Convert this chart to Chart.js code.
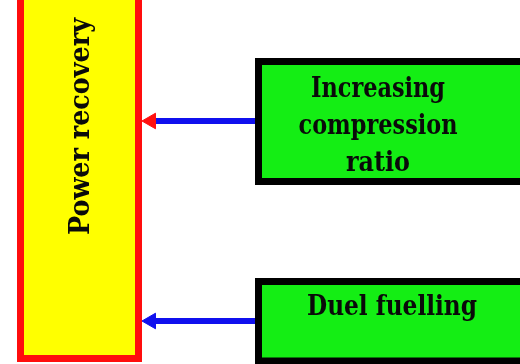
<!DOCTYPE html>
<html>
<head>
<meta charset="utf-8">
<script src="https://cdn.jsdelivr.net/npm/chart.js@4/dist/chart.umd.min.js"></script>
<style>
  html, body { margin: 0; padding: 0; background: #fff; }
  #wrap { width: 520px; height: 364px; }
</style>
</head>
<body>
<div id="wrap"><canvas id="diagrama" width="520" height="364"></canvas></div>
<script>
// Etiquetas del diagrama
const destino = ["Power recovery"];
const origenes = [["Increasing", "compression", "ratio"], ["Duel fuelling"]];
const colorPunta = ["#ff1010", "#1010ee"];

// Colores
const amarillo = "#ffff00";
const rojo = "#ff0d0d";
const verde = "#14ee14";
const azul = "#1010ee";

// Disposición (unidades del eje = pixeles de la imagen)
const cajaDestino = { x0: 20.5, x1: 138.5, y0: -10, y1: 358.5 };
const cajasOrigen = [
  { x0: 258.5, x1: 540, y0: 61.5, y1: 181.5, cx: 378, base: 97, ancho: [134, 159, 64] },
  { x0: 258.5, x1: 540, y0: 281.5, y1: 361, cx: 392, base: 315, ancho: [170] }
];
const flechaY = [121, 321];
const textoDestino = { x: 89, y: 126.5, ancho: 217 };

function rect(c) {
  return [
    { x: c.x1, y: c.y0 }, { x: c.x0, y: c.y0 },
    { x: c.x0, y: c.y1 }, { x: c.x1, y: c.y1 }, { x: c.x1, y: c.y0 }
  ];
}

const datasets = [];

// Flechas (línea azul + punta)
flechaY.forEach((y, i) => {
  datasets.push({
    data: [{ x: 262, y: y }, { x: 154, y: y }],
    showLine: true, borderColor: azul, borderWidth: 6,
    pointRadius: 0, fill: false, clip: false, order: 3
  });
  datasets.push({
    data: [{ x: 151, y: y }],
    showLine: false, pointStyle: "triangle", rotation: 270,
    pointRadius: 9, backgroundColor: colorPunta[i], borderColor: colorPunta[i],
    borderWidth: 1, clip: false, order: 2
  });
});

// Caja amarilla
datasets.push({
  data: rect(cajaDestino).slice(0, 4).concat([{ x: cajaDestino.x1, y: cajaDestino.y0 - 5 }]),
  showLine: true, fill: "shape", backgroundColor: amarillo,
  borderColor: rojo, borderWidth: 7, borderJoinStyle: "miter",
  pointRadius: 0, clip: false, order: 1
});

// Cajas verdes
cajasOrigen.forEach(c => {
  datasets.push({
    data: rect(c),
    showLine: true, fill: "shape", backgroundColor: verde,
    borderColor: "#000", borderWidth: 7, borderJoinStyle: "miter",
    pointRadius: 0, clip: false, order: 1
  });
});

// Texto de las cajas
function escribir(ctx, txt, ancho) {
  const w = ctx.measureText(txt).width;
  ctx.save();
  ctx.scale(ancho / w, 1);
  ctx.fillText(txt, 0, 0);
  ctx.restore();
}

const textos = {
  id: "textos",
  afterDatasetsDraw(chart) {
    const { ctx, scales: { x, y } } = chart;
    ctx.save();
    ctx.fillStyle = "#0a0a0a";
    ctx.font = 'bold 28px "DejaVu Serif"';
    ctx.textAlign = "left";
    ctx.textBaseline = "alphabetic";

    // Texto vertical
    ctx.save();
    ctx.translate(x.getPixelForValue(textoDestino.x), y.getPixelForValue(textoDestino.y));
    ctx.rotate(-Math.PI / 2);
    ctx.translate(-textoDestino.ancho / 2, 0);
    escribir(ctx, destino[0], textoDestino.ancho);
    ctx.restore();

    origenes.forEach((lineas, i) => {
      const c = cajasOrigen[i];
      lineas.forEach((linea, j) => {
        ctx.save();
        ctx.translate(x.getPixelForValue(c.cx) - c.ancho[j] / 2, y.getPixelForValue(c.base + j * 37));
        escribir(ctx, linea, c.ancho[j]);
        ctx.restore();
      });
    });
    ctx.restore();
  }
};

new Chart(document.getElementById("diagrama"), {
  type: "scatter",
  data: { datasets: datasets },
  options: {
    responsive: false,
    animation: false,
    layout: { padding: 0, autoPadding: false },
    plugins: { legend: { display: false }, tooltip: { enabled: false } },
    scales: {
      x: { type: "linear", min: 0, max: 520, display: false },
      y: { type: "linear", min: 0, max: 364, reverse: true, display: false }
    }
  },
  plugins: [textos]
});
</script>
</body>
</html>
